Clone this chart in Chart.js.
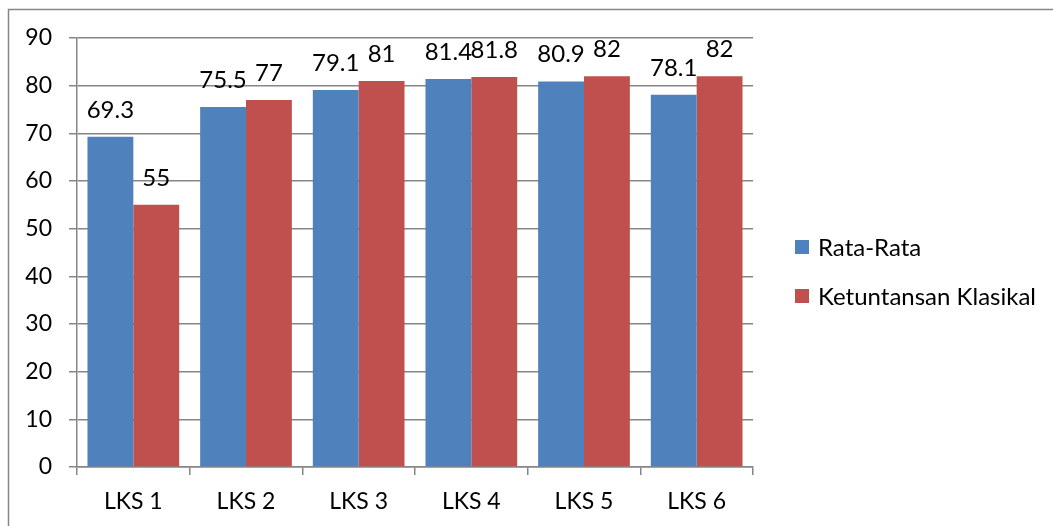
<!DOCTYPE html>
<html>
<head>
<meta charset="utf-8">
<script src="https://cdn.jsdelivr.net/npm/chart.js@4/dist/chart.umd.min.js"></script>
<style>
  html, body { margin: 0; padding: 0; background: #fff; }
  #wrap { width: 1053px; height: 526px; position: relative; }
</style>
</head>
<body>
<div id="wrap"><canvas id="grafik" width="1053" height="526"></canvas></div>
<script>
// ——— Data ——————————————————————————————————————
const kategori = ["LKS 1", "LKS 2", "LKS 3", "LKS 4", "LKS 5", "LKS 6"];
const rataRata = [69.3, 75.5, 79.1, 81.4, 80.9, 78.1];
const ketuntasan = [55, 77, 81, 81.8, 82, 82];
const labelSeri = ["Rata-Rata", "Ketuntansan Klasikal"];
const warnaSeri = ["#4F81BD", "#C0504D"];

const FONT = "Lato, 'Liberation Sans', sans-serif";
const ABU = "#868686";

// bingkai luar (garis atas & kiri)
const bingkai = {
    id: "bingkai",
    beforeDraw(chart) {
        const ctx = chart.ctx;
        ctx.save();
        ctx.strokeStyle = ABU;
        ctx.lineWidth = 1.5;
        ctx.beginPath();
        ctx.moveTo(8.5, chart.height);
        ctx.lineTo(8.5, 9.5);
        ctx.lineTo(chart.width, 9.5);
        ctx.stroke();
        ctx.restore();
    },
};

// label nilai di atas batang
const labelNilai = {
    id: "labelNilai",
    afterDatasetsDraw(chart) {
        const ctx = chart.ctx;
        ctx.save();
        ctx.font = "24px " + FONT;
        ctx.fillStyle = "#000";
        ctx.textAlign = "center";
        ctx.textBaseline = "alphabetic";
        chart.data.datasets.forEach((ds, i) => {
            chart.getDatasetMeta(i).data.forEach((bar, j) => {
                ctx.fillText(String(ds.data[j]), bar.x, bar.y - 19);
            });
        });
        ctx.restore();
    },
};

// legenda di kanan
const legendaKanan = {
    id: "legendaKanan",
    afterDraw(chart) {
        const ctx = chart.ctx;
        const area = chart.chartArea;
        const x0 = area.right + 42;
        const yTengah = [247, 296];
        ctx.save();
        ctx.font = "24px " + FONT;
        ctx.textBaseline = "middle";
        ctx.textAlign = "left";
        chart.data.datasets.forEach((ds, i) => {
            const y = yTengah[i];
            ctx.fillStyle = ds.backgroundColor;
            ctx.fillRect(x0, y - 7, 14, 14);
            ctx.fillStyle = "#000";
            ctx.fillText(ds.label, x0 + 23, y + 1);
        });
        ctx.restore();
    },
};

const ctx = document.getElementById("grafik").getContext("2d");
new Chart(ctx, {
    type: "bar",
    data: {
        labels: kategori,
        datasets: [
            { label: labelSeri[0], data: rataRata, backgroundColor: warnaSeri[0] },
            { label: labelSeri[1], data: ketuntasan, backgroundColor: warnaSeri[1] },
        ],
    },
    options: {
        responsive: false,
        animation: false,
        events: [],
        layout: { padding: { top: 38, right: 300, bottom: 0, left: 0 } },
        datasets: { bar: { categoryPercentage: 0.814, barPercentage: 1, borderWidth: 0 } },
        plugins: { legend: { display: false }, tooltip: { enabled: false } },
        scales: {
            x: {
                grid: { offset: true, drawOnChartArea: false, color: ABU, tickLength: 8, lineWidth: 1.5 },
                border: { display: true, color: ABU, width: 1.5 },
                ticks: { color: "#000", font: { family: FONT, size: 23 }, padding: 13, maxRotation: 0 },
                afterFit(scale) { scale.height = 59; },
            },
            y: {
                min: 0,
                max: 90,
                ticks: { stepSize: 10, color: "#000", font: { family: FONT, size: 23 }, padding: 17 },
                grid: { color: ABU, tickLength: 8, lineWidth: 1.5 },
                border: { display: true, color: ABU, width: 1.5 },
                afterFit(scale) { scale.width = 77; },
            },
        },
    },
    plugins: [bingkai, labelNilai, legendaKanan],
});
</script>
</body>
</html>
